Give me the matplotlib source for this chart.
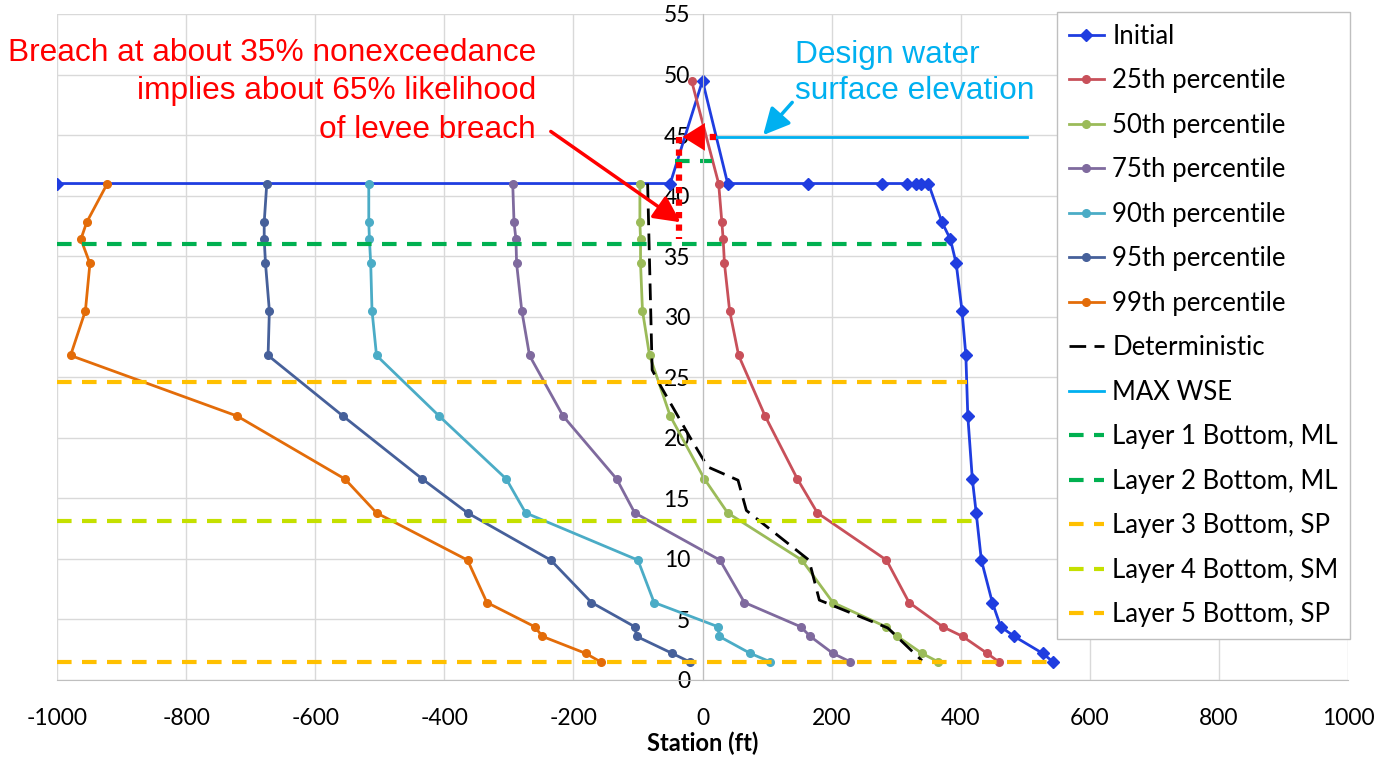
import matplotlib
matplotlib.use("Agg")
import matplotlib.pyplot as plt

# station (ft) / elevation (ft)
levels = [41.0, 37.8, 36.4, 34.4, 30.5, 26.8, 21.8, 16.6, 13.8, 9.9, 6.4, 4.4, 3.6, 2.2, 1.5]

init_x = [-1000, -50, 0, 39, 164, 278, 317, 331, 339, 350, 371, 384, 393, 402,
          408, 411, 418, 424, 432, 449, 462, 483, 527, 543]
init_y = [41, 41, 49.5, 41, 41, 41, 41, 41, 41, 41, 37.8, 36.4, 34.4, 30.5,
          26.8, 21.8, 16.6, 13.8, 9.9, 6.4, 4.4, 3.6, 2.2, 1.5]

p25_x = [-17, 25, 30, 32, 34, 42, 56, 97, 147, 178, 285, 320, 372, 403, 441, 459]
p25_y = [49.5] + levels
p50_x = [-97, -97, -96, -96, -93, -82, -50, 3, 39, 154, 202, 284, 302, 340, 365]
p75_x = [-294, -292, -289, -288, -280, -268, -216, -133, -105, 27, 65, 152, 167, 202, 229]
p90_x = [-517, -517, -516, -514, -512, -505, -408, -304, -274, -100, -75, 24, 26, 74, 105]
p95_x = [-675, -679, -679, -677, -671, -673, -557, -434, -364, -235, -172, -105, -102, -47, -20]
p99_x = [-922, -954, -963, -949, -956, -979, -721, -554, -505, -364, -334, -260, -248, -181, -158]

det_x = [-85, -78, -64, -20, 8, 55, 68, 165, 181, 287, 340]
det_y = [41, 25.6, 24.2, 20.1, 17.6, 16.5, 14.0, 9.9, 6.6, 4.3, 1.6]

wse_x = [21.6, 503]
wse_y = [44.85, 44.85]

layer_names = ["Layer 1 Bottom, ML", "Layer 2 Bottom, ML", "Layer 3 Bottom, SP",
               "Layer 4 Bottom, SM", "Layer 5 Bottom, SP"]
layer_y = [42.9, 36.0, 24.6, 13.1, 1.5]
layer_x0 = [-43, -1000, -1000, -1000, -1000]
layer_x1 = [15, 383, 410, 423, 545]
layer_colors = ["#00B050", "#00B050", "#FFC000", "#C4E000", "#FFC000"]

pct_names = ["50th percentile", "75th percentile", "90th percentile",
             "95th percentile", "99th percentile"]
pct_x = [p50_x, p75_x, p90_x, p95_x, p99_x]
pct_colors = ["#9BBB59", "#7F6A9E", "#4BACC6", "#46609A", "#E36C09"]

x_ticks = list(range(-1000, 1001, 200))
y_ticks = list(range(0, 56, 5))

plt.rcParams["font.family"] = ["Lato", "DejaVu Sans"]
plt.rcParams["axes.unicode_minus"] = False

fig = plt.figure(figsize=(13.83, 7.57), dpi=100)
ax = fig.add_axes([57 / 1383, 77 / 757, 1291 / 1383, 666 / 757])

ax.plot(init_x, init_y, color="#1F3DE0", lw=2, marker="D", ms=6, label="Initial")
ax.plot(p25_x, p25_y, color="#C8505A", lw=2, marker="o", ms=5.5, label="25th percentile")
for xs, name, c in zip(pct_x, pct_names, pct_colors):
    ax.plot(xs, levels, color=c, lw=2, marker="o", ms=5.5, label=name)
ax.plot(det_x, det_y, color="black", lw=2, dashes=(6, 3), label="Deterministic")
ax.plot(wse_x, wse_y, color="#00B0F0", lw=2, label="MAX WSE")
for y, x0, x1, c, name in zip(layer_y, layer_x0, layer_x1, layer_colors, layer_names):
    ax.plot([x0, x1], [y, y], color=c, lw=3, dashes=(3.5, 2.5), label=name)

# annotations
red = "#FF0000"
ax.plot([-36, -36], [44.85, 36.4], color=red, lw=4.5, dashes=(1, 1))
ax.plot([21, -22], [44.85, 44.85], color=red, lw=4.5, dashes=(1, 1))
ax.annotate("", xy=(-35, 44.85), xytext=(-20, 44.85),
            arrowprops=dict(arrowstyle="-|>,head_length=0.8,head_width=0.5",
                            color=red, lw=0, mutation_scale=20))
ax.annotate("", xy=(-34, 37.8), xytext=(-235, 45.3),
            arrowprops=dict(arrowstyle="-|>,head_length=0.8,head_width=0.4",
                            color=red, lw=2.5, mutation_scale=20, shrinkA=0, shrinkB=0))
ax.annotate("", xy=(94, 45.0), xytext=(139, 47.7),
            arrowprops=dict(arrowstyle="-|>,head_length=0.8,head_width=0.4",
                            color="#00B0F0", lw=2.5, mutation_scale=20, shrinkA=0, shrinkB=0))

ax.text(-258, 48.6, "Breach at about 35% nonexceedance\nimplies about 65% likelihood\nof levee breach",
        color=red, fontsize=22.8, family="Liberation Sans", ha="right", va="center",
        multialignment="right", linespacing=1.36)
ax.text(144, 50.15, "Design water\nsurface elevation", color="#00B0F0", fontsize=22.8,
        family="Liberation Sans", ha="left", va="center", linespacing=1.25)

ax.set_xlim(-1000, 1000)
ax.set_ylim(0, 55)
ax.set_xticks(x_ticks)
ax.set_yticks(y_ticks)
ax.grid(True, color="#D9D9D9", lw=1)
ax.set_axisbelow(True)
for s in ("top", "right"):
    ax.spines[s].set_visible(False)
ax.spines["left"].set_position(("data", 0))
ax.spines["left"].set_color("#BFBFBF")
ax.spines["bottom"].set_color("#BFBFBF")
ax.tick_params(axis="both", length=0, labelsize=16.5, colors="black")
ax.tick_params(axis="x", pad=20)
ax.tick_params(axis="y", pad=9)
ax.set_xlabel("Station (ft)", fontsize=17, fontweight="bold", labelpad=2)

leg = ax.legend(loc="upper right", bbox_to_anchor=(1350 / 1383, 1 - 12 / 757),
                bbox_transform=fig.transFigure, fontsize=18.5, frameon=True,
                fancybox=False, edgecolor="#BFBFBF", framealpha=1,
                handlelength=1.4, handletextpad=0.3, labelspacing=0.76,
                borderpad=0.45, borderaxespad=0)
leg.get_frame().set_linewidth(1)

fig.savefig("out.png", dpi=100, facecolor="white")
